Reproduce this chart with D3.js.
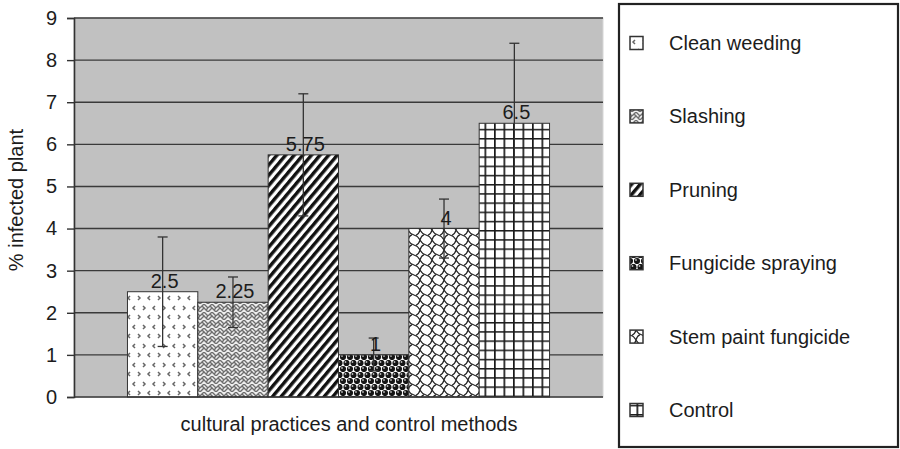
<!DOCTYPE html>
<html>
<head>
<meta charset="utf-8">
<script src="https://cdn.jsdelivr.net/npm/d3@7"></script>
<style>
  html, body { margin: 0; padding: 0; background: #fff; }
  svg { display: block; font-family: Arial, "Liberation Sans", sans-serif; }
</style>
</head>
<body>
<svg id="chart" width="900" height="449"></svg>
<script>
// ---- data ----
const categories = ["Clean weeding", "Slashing", "Pruning", "Fungicide spraying", "Stem paint fungicide", "Control"];
const values = [2.5, 2.25, 5.75, 1, 4, 6.5];
const errLow = [1.2, 1.65, 4.3, 0.62, 3.3, 4.6];
const errHigh = [3.8, 2.85, 7.2, 1.4, 4.7, 8.4];
const valueLabels = ["2.5", "2.25", "5.75", "1", "4", "6.5"];
const yTicks = [0, 1, 2, 3, 4, 5, 6, 7, 8, 9];
const yTitle = "% infected plant";
const xTitle = "cultural practices and control methods";

// ---- layout ----
const svg = d3.select("#chart");
const plot = { left: 74, right: 603, top: 18, bottom: 397 };
const ink = "#1c1c1c";

const y = d3.scaleLinear().domain([0, 9]).range([plot.bottom, plot.top]);
const x = d3.scaleBand().domain(categories).range([plot.left, plot.right])
  .paddingInner(0).paddingOuter(0.76);

// ---- patterns ----
const defs = svg.append("defs");
const patIds = ["p-clean", "p-slash", "p-prune", "p-fung", "p-stem", "p-ctrl"];

// 1: clean weeding - small gray chevrons on white
{
  const p = defs.append("pattern").attr("id", patIds[0]).attr("patternUnits", "userSpaceOnUse")
    .attr("width", 20).attr("height", 19);
  p.append("rect").attr("width", 20).attr("height", 19).attr("fill", "#fff");
  const g = p.append("g").attr("fill", "none").attr("stroke", "#666").attr("stroke-width", 1.5);
  g.append("path").attr("d", "M3,2 l2,2 l-2,2");
  g.append("path").attr("d", "M15,2 l-2,2 l2,2");
  g.append("path").attr("d", "M10,11 l-2,2 l2,2");
  g.append("path").attr("d", "M18,11 l2,2 l-2,2");
  g.append("path").attr("d", "M-2,11 l2,2 l-2,2");
}
// 2: slashing - herringbone gray
{
  const p = defs.append("pattern").attr("id", patIds[1]).attr("patternUnits", "userSpaceOnUse")
    .attr("width", 8).attr("height", 8);
  p.append("rect").attr("width", 8).attr("height", 8).attr("fill", "#eee");
  const g = p.append("g").attr("fill", "none").attr("stroke", "#6e6e6e").attr("stroke-width", 1.4);
  g.append("path").attr("d", "M0,4 L4,0 M4,0 L8,4 M0,8 L4,4 L8,8");
  g.append("path").attr("d", "M2,2 L4,4");
  g.append("path").attr("d", "M6,6 L8,4");
}
// 3: pruning - diagonal black stripes
{
  const p = defs.append("pattern").attr("id", patIds[2]).attr("patternUnits", "userSpaceOnUse")
    .attr("width", 6.6).attr("height", 6.6).attr("patternTransform", "rotate(40)");
  p.append("rect").attr("width", 6.6).attr("height", 6.6).attr("fill", "#fff");
  p.append("rect").attr("width", 3.4).attr("height", 6.6).attr("fill", "#111");
}
// 4: fungicide spraying - black balls
{
  const p = defs.append("pattern").attr("id", patIds[3]).attr("patternUnits", "userSpaceOnUse")
    .attr("width", 14).attr("height", 12);
  p.append("rect").attr("width", 14).attr("height", 12).attr("fill", "#fff");
  const pts = [[3.5, 3], [10.5, 3], [0, 9], [7, 9], [14, 9]];
  pts.forEach(([cx, cy]) => {
    p.append("circle").attr("cx", cx).attr("cy", cy).attr("r", 3.1).attr("fill", "#151515");
    p.append("circle").attr("cx", cx - 1).attr("cy", cy - 1).attr("r", 0.9).attr("fill", "#bbb");
  });
}
// 5: stem paint fungicide - wavy scales
{
  const p = defs.append("pattern").attr("id", patIds[4]).attr("patternUnits", "userSpaceOnUse")
    .attr("width", 12).attr("height", 10);
  p.append("rect").attr("width", 12).attr("height", 10).attr("fill", "#fff");
  const g = p.append("g").attr("fill", "none").attr("stroke", "#222").attr("stroke-width", 1.2);
  g.append("path").attr("d", "M0,0 Q2,4 6,5 Q10,6 12,10");
  g.append("path").attr("d", "M0,10 Q1,6 4,4.6");
  g.append("path").attr("d", "M8,5.4 Q11,4 12,0");
}
// 6: control - grid
{
  const p = defs.append("pattern").attr("id", patIds[5]).attr("patternUnits", "userSpaceOnUse")
    .attr("width", 9.5).attr("height", 9.2);
  p.append("rect").attr("width", 9.5).attr("height", 9.2).attr("fill", "#fff");
  p.append("rect").attr("x", 0).attr("width", 1.7).attr("height", 9.2).attr("fill", "#1a1a1a");
  p.append("rect").attr("y", 0).attr("width", 9.5).attr("height", 1.5).attr("fill", "#1a1a1a");
}

// ---- plot background ----
svg.append("rect")
  .attr("x", plot.left).attr("y", plot.top)
  .attr("width", plot.right - plot.left).attr("height", plot.bottom - plot.top)
  .attr("fill", "#c1c1c1").attr("stroke", "#d6d6d6").attr("stroke-width", 1);

// gridlines
svg.append("g").selectAll("line").data(yTicks.filter(d => d > 0)).join("line")
  .attr("x1", plot.left).attr("x2", plot.right)
  .attr("y1", d => y(d)).attr("y2", d => y(d))
  .attr("stroke", "#3a3a3a").attr("stroke-width", 1.4);

// bars
svg.append("g").selectAll("rect").data(categories).join("rect")
  .attr("x", d => x(d)).attr("width", x.bandwidth())
  .attr("y", (d, i) => y(values[i])).attr("height", (d, i) => y(0) - y(values[i]))
  .attr("fill", (d, i) => `url(#${patIds[i]})`)
  .attr("stroke", "#333").attr("stroke-width", 1);

// error bars
const eg = svg.append("g").attr("stroke", "#333").attr("stroke-width", 1.3);
categories.forEach((c, i) => {
  const cx = x(c) + x.bandwidth() / 2;
  eg.append("line").attr("x1", cx).attr("x2", cx).attr("y1", y(errLow[i])).attr("y2", y(errHigh[i]));
  eg.append("line").attr("x1", cx - 5).attr("x2", cx + 5).attr("y1", y(errLow[i])).attr("y2", y(errLow[i]));
  eg.append("line").attr("x1", cx - 5).attr("x2", cx + 5).attr("y1", y(errHigh[i])).attr("y2", y(errHigh[i]));
});

// value labels
svg.append("g").selectAll("text").data(categories).join("text")
  .attr("x", d => x(d) + x.bandwidth() / 2 + 2)
  .attr("y", (d, i) => y(values[i]) - 4)
  .attr("text-anchor", "middle")
  .attr("font-size", 20).attr("fill", ink)
  .text((d, i) => valueLabels[i]);

// y axis
const yAxis = d3.axisLeft(y).tickValues(yTicks).tickSize(7).tickPadding(10).tickFormat(d3.format("d"));
const ya = svg.append("g").attr("transform", `translate(${plot.left},0)`).call(yAxis);
ya.select(".domain").attr("stroke", "#333").attr("stroke-width", 1.6);
ya.selectAll(".tick line").attr("stroke", "#333").attr("stroke-width", 1.4);
ya.selectAll(".tick text").attr("font-size", 20).attr("fill", ink)
  .attr("font-family", "Arial, 'Liberation Sans', sans-serif");

// x axis baseline
svg.append("line").attr("x1", plot.left).attr("x2", plot.right)
  .attr("y1", plot.bottom).attr("y2", plot.bottom)
  .attr("stroke", "#333").attr("stroke-width", 1.6);

// titles
svg.append("text")
  .attr("transform", `translate(23,200) rotate(-90)`)
  .attr("text-anchor", "middle").attr("font-size", 20).attr("fill", ink)
  .text(yTitle);
svg.append("text")
  .attr("x", 349).attr("y", 431)
  .attr("text-anchor", "middle").attr("font-size", 20).attr("fill", ink)
  .text(xTitle);

// ---- legend ----
const lg = svg.append("g");
lg.append("rect").attr("x", 619).attr("y", 4).attr("width", 279).attr("height", 443)
  .attr("fill", "#fff").attr("stroke", "#222").attr("stroke-width", 2.2);
const ly = d3.scalePoint().domain(categories).range([43, 410]);
categories.forEach((c, i) => {
  const cy = ly(c);
  lg.append("rect").attr("x", 630).attr("y", cy - 6.5).attr("width", 13).attr("height", 13)
    .attr("fill", `url(#${patIds[i]})`).attr("stroke", "#333").attr("stroke-width", 1.5);
  lg.append("text").attr("x", 669).attr("y", cy).attr("dy", "0.35em")
    .attr("font-size", 20).attr("fill", ink).text(c);
});
</script>
</body>
</html>
